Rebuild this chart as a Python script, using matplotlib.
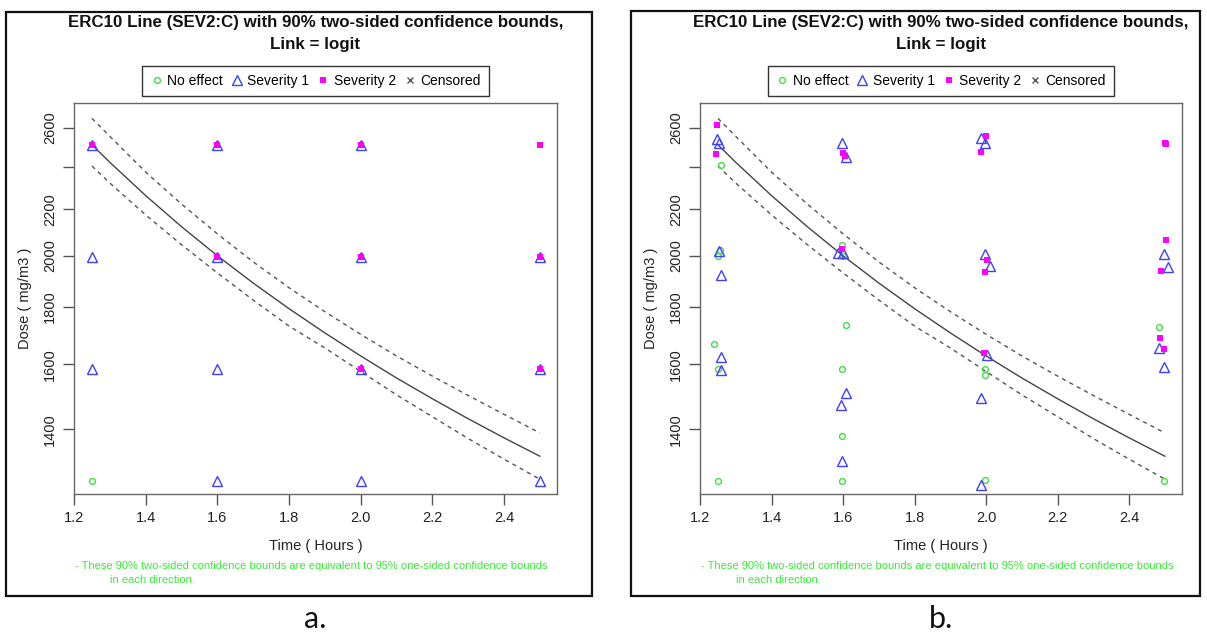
import matplotlib.pyplot as plt
from matplotlib.patches import Rectangle
from matplotlib.lines import Line2D

plt.rcParams['font.family'] = ['Liberation Sans', 'DejaVu Sans']

W, H = 1207, 635

# ERC10 line (SEV2:C) and its 90% two-sided bounds
erc_time = [1.25, 1.3, 1.4, 1.5, 1.6, 1.7, 1.8, 1.9, 2.0, 2.1, 2.2, 2.3, 2.4, 2.5]
erc_dose = [2512, 2423, 2263, 2123, 2000, 1891, 1794, 1707, 1628, 1556, 1491, 1431, 1376, 1325]
erc_upper = [2652, 2556, 2375, 2224, 2092, 1975, 1873, 1783, 1702, 1628, 1562, 1501, 1444, 1390]
erc_lower = [2405, 2322, 2175, 2046, 1931, 1826, 1731, 1655, 1577, 1503, 1437, 1374, 1317, 1264]

# a. grouped records
a_none_time = [1.25]
a_none_dose = [1259]
a_sev1_time = [1.25, 1.25, 1.25, 1.6, 1.6, 1.6, 1.6, 2.0, 2.0, 2.0, 2.0, 2.5, 2.5, 2.5]
a_sev1_dose = [1585, 1995, 2512, 1259, 1585, 1995, 2512, 1259, 1585, 1995, 2512, 1259, 1585, 1995]
a_sev2_time = [1.25, 1.6, 1.6, 2.0, 2.0, 2.0, 2.5, 2.5, 2.5]
a_sev2_dose = [2512, 1995, 2512, 1585, 1995, 2512, 1585, 1995, 2512]

# b. jittered records
b_none_time = [1.26, 1.256, 1.251, 1.24, 1.25, 1.251,
               1.597, 1.6, 1.609, 1.598, 1.598, 1.598,
               1.998, 1.998, 1.998,
               2.483, 2.499]
b_none_dose = [2410, 2025, 1999, 1668, 1586, 1260,
               2045, 1999, 1734, 1586, 1381, 1260,
               1586, 1565, 1262,
               1728, 1260]
b_sev1_time = [1.247, 1.253, 1.253, 1.26, 1.259, 1.259,
               1.598, 1.608, 1.586, 1.6, 1.608, 1.594, 1.598,
               1.986, 1.997, 1.997, 2.011, 2.002, 1.987, 1.987,
               2.499, 2.509, 2.483, 2.499]
b_sev1_dose = [2540, 2522, 2021, 1924, 1624, 1580,
               2522, 2450, 2012, 2012, 1510, 1472, 1312,
               2546, 2520, 2006, 1958, 1630, 1494, 1248,
               2006, 1956, 1656, 1590]
b_sev2_time = [1.248, 1.244,
               1.6, 1.605, 1.597,
               2.0, 1.986, 2.004, 1.997, 1.993,
               2.5, 2.502, 2.502, 2.49, 2.487, 2.497]
b_sev2_dose = [2616, 2465,
               2470, 2455, 2029,
               2558, 2475, 1982, 1933, 1637,
               2522, 2515, 2064, 1938, 1690, 1651]

y_ticks = [1400, 1600, 1800, 2000, 2200, 2400, 2600]
y_tick_labels = ['1400', '1600', '1800', '2000', '2200', '', '2600']
x_ticks = [1.2, 1.4, 1.6, 1.8, 2.0, 2.2, 2.4]

green = '#44dd44'
blue = '#3f3fff'
magenta = '#ff00ff'


def fx(x):
    return x / W


def fy(y):
    return 1 - y / H


def draw_panel(fig, left, right, frame, none_t, none_d, s1_t, s1_d, s2_t, s2_d, tag):
    # outer frame of the panel
    x0, y0, x1, y1 = frame
    fig.patches.append(Rectangle((fx(x0), fy(y1)), fx(x1 - x0), (y1 - y0) / H,
                                 transform=fig.transFigure, fill=False,
                                 edgecolor='#111111', linewidth=1.6))
    top, bottom = 103, 494
    ax = fig.add_axes([fx(left), fy(bottom), fx(right - left), (bottom - top) / H])
    ax.plot(erc_time, erc_dose, color='#444444', lw=1.0)
    ax.plot(erc_time, erc_upper, color='#555555', lw=1.0, linestyle=(0, (3, 3)))
    ax.plot(erc_time, erc_lower, color='#555555', lw=1.0, linestyle=(0, (3, 3)))
    ax.plot(none_t, none_d, 'o', mfc='none', mec=green, ms=4.2, mew=1.0)
    ax.plot(s1_t, s1_d, '^', mfc='none', mec=blue, ms=6.5, mew=1.0)
    ax.plot(s2_t, s2_d, 's', color=magenta, ms=5, mew=0)

    ax.set_yscale('log')
    ax.set_xlim(1.2, 2.548)
    ax.set_ylim(1226, 2737)
    ax.set_xticks(x_ticks)
    ax.set_xticklabels(['%.1f' % t for t in x_ticks])
    ax.set_yticks(y_ticks)
    ax.set_yticklabels(y_tick_labels, rotation=90, va='center')
    ax.minorticks_off()
    ax.tick_params(direction='out', length=8, width=1, color='#555555',
                   labelsize=10.5, labelcolor='#222222', pad=4)
    for sp in ax.spines.values():
        sp.set_color('#666666')
        sp.set_linewidth(1.0)

    cx = (left + right) / 2
    fig.text(fx(cx), fy(23), 'ERC10 Line (SEV2:C) with 90% two-sided confidence bounds,',
             ha='center', va='center', fontsize=12.2, fontweight='bold', color='#111111')
    fig.text(fx(cx), fy(44), 'Link = logit', ha='center', va='center',
             fontsize=12.2, fontweight='bold', color='#111111')

    handles = [
        Line2D([], [], marker='o', ls='none', mfc='none', mec=green, ms=4.2),
        Line2D([], [], marker='^', ls='none', mfc='none', mec=blue, ms=6.5),
        Line2D([], [], marker='s', ls='none', color=magenta, ms=5, mew=0),
        Line2D([], [], marker='x', ls='none', color='#555555', ms=5),
    ]
    leg = fig.legend(handles, ['No effect', 'Severity 1', 'Severity 2', 'Censored'],
                     loc='center', bbox_to_anchor=(fx(cx), fy(81)), ncol=4,
                     fontsize=10, frameon=True, fancybox=False, framealpha=1,
                     edgecolor='#333333', handlelength=0.9, handletextpad=0.3,
                     columnspacing=0.55, borderpad=0.6, borderaxespad=0)
    leg.get_frame().set_linewidth(1.0)

    fig.text(fx(left - 49), fy((top + bottom) / 2), 'Dose ( mg/m3 )', rotation=90,
             ha='center', va='center', fontsize=10.5, color='#222222')
    fig.text(fx(cx), fy(546), 'Time ( Hours )', ha='center', va='center',
             fontsize=10.5, color='#222222')
    fig.text(fx(left + 1), fy(566),
             '- These 90% two-sided confidence bounds are equivalent to 95% one-sided confidence bounds',
             ha='left', va='center', fontsize=8.05, color='#33ee33')
    fig.text(fx(left + 36), fy(580), 'in each direction.', ha='left', va='center',
             fontsize=8.05, color='#33ee33')
    fig.text(fx(cx), fy(619), tag, ha='center', va='center', fontsize=22,
             family=['Lato', 'DejaVu Sans'], color='#111111')
    return ax


fig = plt.figure(figsize=(W / 100, H / 100), dpi=100)
draw_panel(fig, 74, 557, (6, 12, 592, 596),
           a_none_time, a_none_dose, a_sev1_time, a_sev1_dose, a_sev2_time, a_sev2_dose, 'a.')
draw_panel(fig, 700, 1182, (631, 11, 1200, 596),
           b_none_time, b_none_dose, b_sev1_time, b_sev1_dose, b_sev2_time, b_sev2_dose, 'b.')
fig.savefig('out.png', dpi=100)
